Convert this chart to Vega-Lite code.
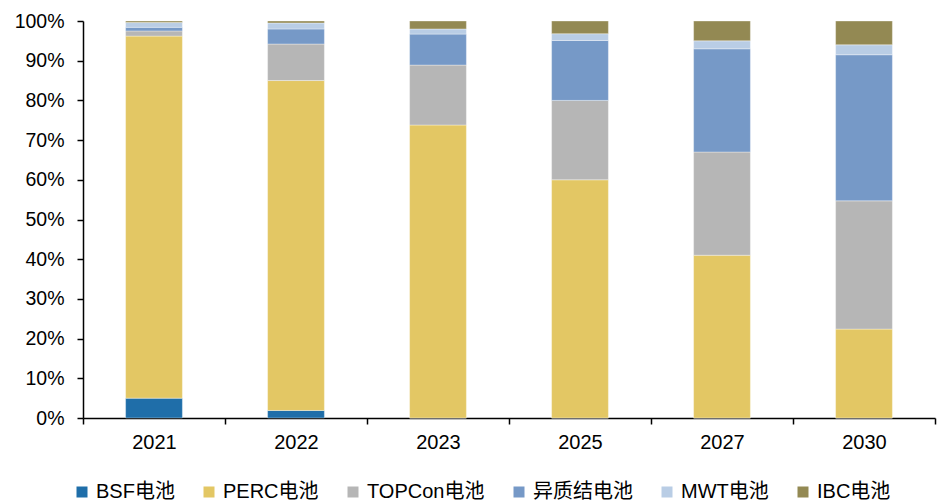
{
  "$schema": "https://vega.github.io/schema/vega-lite/v6.json",
  "width": 852,
  "height": 397,
  "autosize": {"type": "none"},
  "padding": {"left": 83, "top": 21, "right": 6, "bottom": 84},
  "config": {
    "view": {"stroke": null},
    "font": "Liberation Sans, Arial, Noto Sans CJK SC, sans-serif"
  },
  "data": {
    "values": [
      {"year": "2021", "type": "BSF电池", "share": 5.0},
      {"year": "2021", "type": "PERC电池", "share": 91.2},
      {"year": "2021", "type": "TOPCon电池", "share": 1.3},
      {"year": "2021", "type": "异质结电池", "share": 0.9},
      {"year": "2021", "type": "MWT电池", "share": 1.2},
      {"year": "2021", "type": "IBC电池", "share": 0.4},
      {"year": "2022", "type": "BSF电池", "share": 1.9},
      {"year": "2022", "type": "PERC电池", "share": 83.1},
      {"year": "2022", "type": "TOPCon电池", "share": 9.2},
      {"year": "2022", "type": "异质结电池", "share": 3.8},
      {"year": "2022", "type": "MWT电池", "share": 1.5},
      {"year": "2022", "type": "IBC电池", "share": 0.5},
      {"year": "2023", "type": "BSF电池", "share": 0},
      {"year": "2023", "type": "PERC电池", "share": 73.8},
      {"year": "2023", "type": "TOPCon电池", "share": 15.1},
      {"year": "2023", "type": "异质结电池", "share": 7.8},
      {"year": "2023", "type": "MWT电池", "share": 1.3},
      {"year": "2023", "type": "IBC电池", "share": 2.0},
      {"year": "2025", "type": "BSF电池", "share": 0},
      {"year": "2025", "type": "PERC电池", "share": 60.0},
      {"year": "2025", "type": "TOPCon电池", "share": 20.0},
      {"year": "2025", "type": "异质结电池", "share": 15.1},
      {"year": "2025", "type": "MWT电池", "share": 1.7},
      {"year": "2025", "type": "IBC电池", "share": 3.2},
      {"year": "2027", "type": "BSF电池", "share": 0},
      {"year": "2027", "type": "PERC电池", "share": 41.0},
      {"year": "2027", "type": "TOPCon电池", "share": 26.0},
      {"year": "2027", "type": "异质结电池", "share": 26.0},
      {"year": "2027", "type": "MWT电池", "share": 2.0},
      {"year": "2027", "type": "IBC电池", "share": 5.0},
      {"year": "2030", "type": "BSF电池", "share": 0},
      {"year": "2030", "type": "PERC电池", "share": 22.4},
      {"year": "2030", "type": "TOPCon电池", "share": 32.3},
      {"year": "2030", "type": "异质结电池", "share": 36.8},
      {"year": "2030", "type": "MWT电池", "share": 2.5},
      {"year": "2030", "type": "IBC电池", "share": 6.0}
    ]
  },
  "transform": [
    {"calculate": "indexof(['BSF电池', 'PERC电池', 'TOPCon电池', '异质结电池', 'MWT电池', 'IBC电池'], datum.type)", "as": "stackRank"}
  ],
  "mark": {"type": "bar", "width": {"band": 0.4}, "stroke": "white", "strokeWidth": 0.5, "strokeOpacity": 0.7},
  "encoding": {
    "x": {
      "field": "year",
      "type": "ordinal",
      "scale": {"paddingInner": 0, "paddingOuter": 0},
      "axis": {
        "title": null,
        "labelAngle": 0,
        "tickBand": "extent",
        "domainColor": "black",
        "domainWidth": 1.5,
        "tickColor": "black",
        "tickWidth": 1.5,
        "tickSize": 6,
        "labelFontSize": 20,
        "labelColor": "black",
        "labelPadding": 8
      }
    },
    "y": {
      "field": "share",
      "type": "quantitative",
      "stack": "zero",
      "scale": {"domain": [0, 100], "nice": false},
      "axis": {
        "title": null,
        "values": [0, 10, 20, 30, 40, 50, 60, 70, 80, 90, 100],
        "labelExpr": "datum.value + '%'",
        "grid": false,
        "domainColor": "black",
        "domainWidth": 1.5,
        "tickColor": "black",
        "tickWidth": 1.5,
        "tickSize": 6,
        "labelFontSize": 19.5,
        "labelColor": "black",
        "labelPadding": 13
      }
    },
    "order": {"field": "stackRank", "type": "quantitative", "sort": "ascending"},
    "color": {
      "field": "type",
      "type": "nominal",
      "sort": ["BSF电池", "PERC电池", "TOPCon电池", "异质结电池", "MWT电池", "IBC电池"],
      "scale": {
        "domain": ["BSF电池", "PERC电池", "TOPCon电池", "异质结电池", "MWT电池", "IBC电池"],
        "range": ["#1F6EA9", "#E3C764", "#B6B6B6", "#7699C7", "#B9CDE5", "#938953"]
      },
      "legend": {
        "orient": "none",
        "legendX": -11,
        "legendY": 461,
        "direction": "horizontal",
        "title": null,
        "symbolType": "square",
        "symbolSize": 121,
        "symbolStrokeWidth": 0,
        "labelFontSize": 20,
        "labelColor": "black",
        "labelOffset": 4,
        "columnPadding": 24
      }
    }
  }
}
